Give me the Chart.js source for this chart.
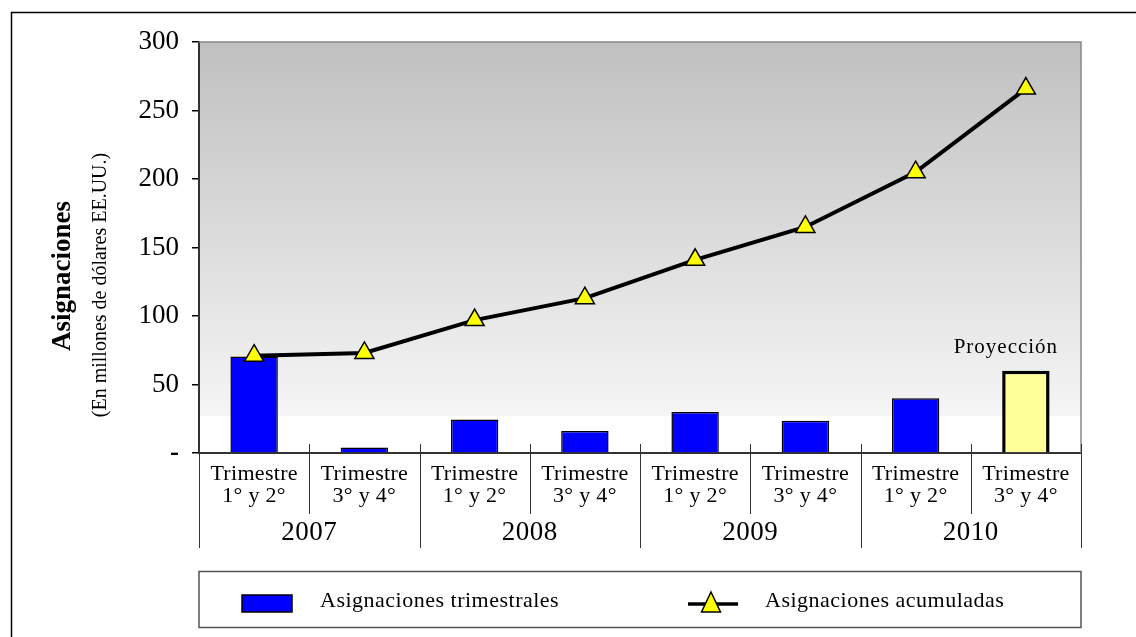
<!DOCTYPE html>
<html>
<head>
<meta charset="utf-8">
<script src="https://cdn.jsdelivr.net/npm/chart.js@4"></script>
<style>
  body { margin: 0; background: #fff; }
  canvas { display: block; }
</style>
</head>
<body>
<canvas id="chart" width="1136" height="637"></canvas>
<script>
// data (millones de dólares)
const years = ['2007', '2008', '2009', '2010'];
const halves = ['1° y 2°', '3° y 4°'];
const quarterly = [70.5, 4, 24.5, 16, 30, 23.5, 40, 60];
const cumulative = [71, 73, 97, 113, 141, 165, 205, 266];
const projectedIndex = 7;
const yTicks = [0, 50, 100, 150, 200, 250, 300];

const serif = "'Liberation Serif', 'Times New Roman', serif";

let labels = [];
years.forEach(y => halves.forEach(h => labels.push(y + ' ' + h)));

const barColors = quarterly.map((v, i) => i === projectedIndex ? '#ffff99' : '#0000ff');
const barBorders = quarterly.map((v, i) => i === projectedIndex ? 3.5 : 1.5);

// background, frame, category labels, titles and legend
const decorations = {
  id: 'decorations',
  beforeDraw(chart) {
    const ctx = chart.ctx;
    const a = chart.chartArea;
    const y = chart.scales.y;
    ctx.save();
    ctx.fillStyle = '#fff';
    ctx.fillRect(0, 0, chart.width, chart.height);
    // outer frame (only top and left show)
    ctx.strokeStyle = '#000';
    ctx.lineWidth = 1.5;
    ctx.beginPath();
    ctx.moveTo(11.5, chart.height + 5);
    ctx.lineTo(11.5, 12.5);
    ctx.lineTo(chart.width + 5, 12.5);
    ctx.stroke();
    // plot area gradient, fading out near 27
    const fadeY = y.getPixelForValue(27);
    const g = ctx.createLinearGradient(0, a.top, 0, fadeY);
    g.addColorStop(0, '#c0c0c0');
    g.addColorStop(1, '#f5f5f5');
    ctx.fillStyle = g;
    ctx.fillRect(a.left, a.top, a.right - a.left, fadeY - a.top);
    ctx.restore();
  },
  afterDraw(chart) {
    const ctx = chart.ctx;
    const a = chart.chartArea;
    const x = chart.scales.x;
    const y = chart.scales.y;
    const step = (a.right - a.left) / labels.length;
    ctx.save();

    // top and right plot border
    ctx.strokeStyle = '#888';
    ctx.lineWidth = 1.5;
    ctx.beginPath();
    ctx.moveTo(a.left, a.top);
    ctx.lineTo(a.right, a.top);
    ctx.lineTo(a.right, a.bottom);
    ctx.stroke();

    // category separators under the axis
    ctx.strokeStyle = '#333';
    ctx.lineWidth = 1;
    for (let i = 0; i <= labels.length; i++) {
      const px = Math.round(a.left + i * step) + 0.5;
      ctx.beginPath();
      ctx.moveTo(px, i === 0 ? a.bottom : a.bottom - 9);
      ctx.lineTo(px, i % 2 === 0 ? 548 : 514);
      ctx.stroke();
    }

    // category labels
    ctx.fillStyle = '#000';
    ctx.textAlign = 'center';
    ctx.textBaseline = 'middle';
    ctx.font = '22px ' + serif;
    ctx.letterSpacing = '0.3px';
    labels.forEach((l, i) => {
      const cx = x.getPixelForValue(i);
      ctx.fillText('Trimestre', cx, 474);
      ctx.fillText(halves[i % 2], cx, 496);
    });
    ctx.font = '27px ' + serif;
    ctx.letterSpacing = '0.5px';
    years.forEach((yr, i) => {
      const cx = (x.getPixelForValue(i * 2) + x.getPixelForValue(i * 2 + 1)) / 2;
      ctx.fillText(yr, cx, 533);
    });

    // projection note
    ctx.font = '21px ' + serif;
    ctx.letterSpacing = '1px';
    ctx.fillText('Proyección', x.getPixelForValue(projectedIndex) - 20,
      y.getPixelForValue(quarterly[projectedIndex]) - 23);
    ctx.letterSpacing = '0px';

    // y axis titles
    ctx.save();
    ctx.translate(63, 276);
    ctx.rotate(-Math.PI / 2);
    ctx.font = 'bold 27px ' + serif;
    ctx.fillText('Asignaciones', 0, 0);
    ctx.restore();
    ctx.save();
    ctx.translate(101, 285);
    ctx.rotate(-Math.PI / 2);
    ctx.font = '20px ' + serif;
    ctx.fillText('(En millones de dólares EE.UU.)', 0, 0);
    ctx.restore();

    // legend
    ctx.strokeStyle = '#555';
    ctx.lineWidth = 1.5;
    ctx.strokeRect(a.left, 571.5, a.right - a.left, 56);
    const bars = chart.data.datasets[1];
    const line = chart.data.datasets[0];
    ctx.fillStyle = bars.backgroundColor[0];
    ctx.fillRect(242, 595, 50, 17);
    ctx.strokeStyle = '#000';
    ctx.lineWidth = 1.5;
    ctx.strokeRect(242, 595, 50, 17);
    ctx.strokeStyle = line.borderColor;
    ctx.lineWidth = 3.5;
    ctx.beginPath();
    ctx.moveTo(688, 604);
    ctx.lineTo(738, 604);
    ctx.stroke();
    ctx.beginPath();
    ctx.moveTo(711, 592);
    ctx.lineTo(720.5, 612);
    ctx.lineTo(701.5, 612);
    ctx.closePath();
    ctx.fillStyle = line.pointBackgroundColor;
    ctx.fill();
    ctx.lineWidth = 1.5;
    ctx.stroke();
    ctx.fillStyle = '#000';
    ctx.textAlign = 'left';
    ctx.font = '22px ' + serif;
    ctx.letterSpacing = '0.5px';
    ctx.fillText(bars.label, 320, 601);
    ctx.fillText(line.label, 765, 601);
    ctx.letterSpacing = '0px';

    ctx.restore();
  }
};

new Chart(document.getElementById('chart'), {
  type: 'bar',
  data: {
    labels: labels,
    datasets: [
      {
        type: 'line',
        label: 'Asignaciones acumuladas',
        data: cumulative,
        borderColor: '#000',
        borderWidth: 4,
        pointStyle: 'triangle',
        pointRadius: 11,
        pointBackgroundColor: '#ffff00',
        pointBorderColor: '#000',
        pointBorderWidth: 1.5,
        tension: 0,
        order: 0,
        clip: false
      },
      {
        label: 'Asignaciones trimestrales',
        data: quarterly,
        backgroundColor: barColors,
        borderColor: '#000',
        borderWidth: barBorders,
        barPercentage: 0.43,
        categoryPercentage: 1,
        order: 1
      }
    ]
  },
  options: {
    responsive: false,
    animation: false,
    layout: { padding: { left: 0, top: 42, right: 55, bottom: 0 } },
    plugins: {
      legend: { display: false },
      tooltip: { enabled: false }
    },
    scales: {
      x: {
        afterFit: s => { s.height = 637 - 453; },
        ticks: { display: false },
        grid: { display: false },
        border: { display: true, color: '#333', width: 2 }
      },
      y: {
        min: 0,
        max: 300,
        afterFit: s => { s.width = 199; },
        afterBuildTicks: s => { s.ticks = yTicks.map(v => ({ value: v })); },
        ticks: {
          color: '#000',
          padding: 13,
          font: c => ({ family: serif, size: 27, weight: c.tick && c.tick.value === 0 ? 'bold' : 'normal' }),
          callback: v => v === 0 ? '-' : v
        },
        grid: { drawOnChartArea: false, drawTicks: true, tickLength: 7, color: '#000', lineWidth: 1.5 },
        border: { display: true, color: '#333', width: 2 }
      }
    }
  },
  plugins: [decorations]
});
</script>
</body>
</html>
